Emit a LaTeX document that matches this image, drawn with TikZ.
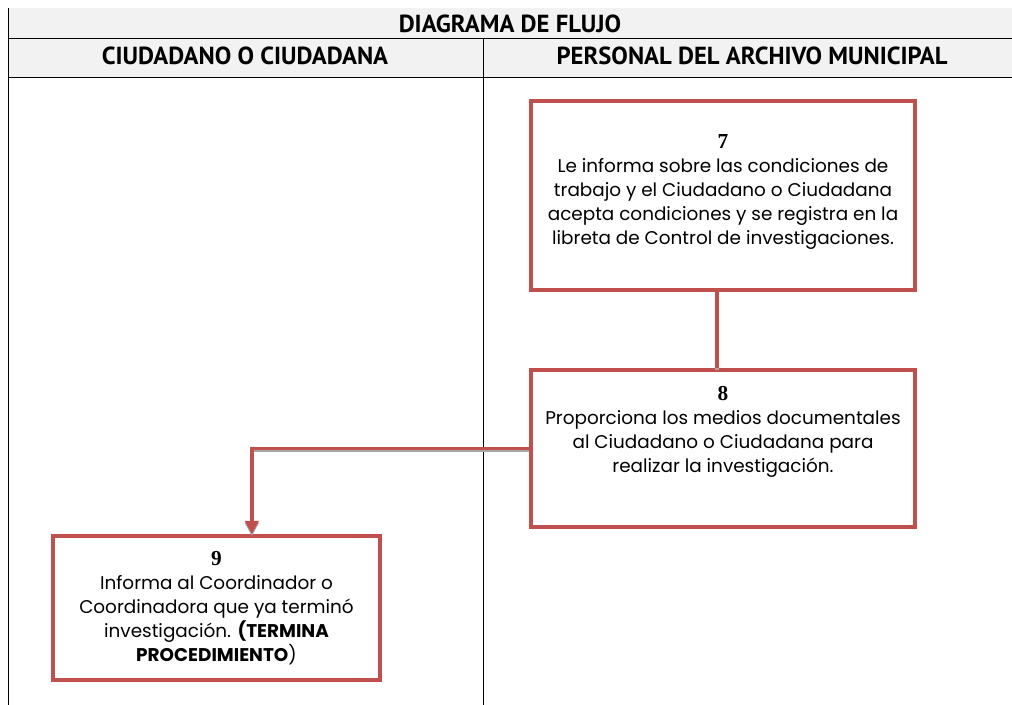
\documentclass[tikz,border=0pt]{standalone}
\usepackage{fontspec}
\setmainfont{Poppins}
\newfontfamily\headfont{PT Sans}
\newfontfamily\numfont{Liberation Serif}
\usepackage{tikz}
\usetikzlibrary{arrows.meta,positioning,shadows}
\definecolor{archivored}{HTML}{C0504D}
\definecolor{archivogray}{HTML}{F2F2F2}
\tikzset{
  archivopicture/.style={x=0.75pt, y=-0.75pt, node distance=57pt and 10mm},
  archivohead/.style={font=\headfont\bfseries\fontsize{18.5}{20}\selectfont, inner sep=0pt},
  archivobox/.style={draw=archivored, line width=2.8pt, align=center, fill=white, inner sep=4pt,
    font=\fontsize{13.8}{18}\selectfont, drop shadow={opacity=0.35, shadow xshift=0.8pt, shadow yshift=-0.8pt}},
  archivoline/.style={draw=archivored, line width=2.8pt,
    preaction={draw=gray!70, line width=2.8pt, transform canvas={yshift=-1.5pt}}},
  archivoarrow/.style={archivoline, -{Triangle[length=10pt, width=10pt]}}
}
\newcommand{\archivonum}[1]{{\numfont\bfseries\fontsize{16}{18}\selectfont #1}\\}

\begin{document}
\begin{tikzpicture}[archivopicture]
\useasboundingbox (0,0) rectangle (1012,705);
% table frame
\fill[archivogray] (8,8) rectangle (1012,77);
\draw[line width=0.6pt] (8,8) -- (8,705);
\draw[line width=0.6pt] (8,38) -- (1012,38);
\draw[line width=0.6pt] (8,77) -- (1012,77);
\draw[line width=0.6pt] (483,38) -- (483,705);
\node[archivohead] (titulo) at (510,24) {DIAGRAMA DE FLUJO};
\node[archivohead] (ciudadano) at (245,56) {CIUDADANO O CIUDADANA};
\node[archivohead] (personal) at (752,56) {PERSONAL DEL ARCHIVO MUNICIPAL};
% steps
\node[archivobox, minimum width=288pt, minimum height=142pt] (paso7) at (723,195.5)
  {\archivonum{7}Le informa sobre las condiciones de\\trabajo y el Ciudadano o Ciudadana\\acepta condiciones y se registra en la\\libreta de Control de investigaciones.\\[-9pt]};
\node[archivobox, minimum width=288pt, minimum height=118pt, below=of paso7] (paso8)
  {\archivonum{8}Proporciona los medios documentales\\al Ciudadano o Ciudadana para\\realizar la investigaci\'on.\\[10pt]};
\node[archivobox, minimum width=245pt, minimum height=108pt] (paso9) at (216.5,608)
  {\archivonum{9}Informa al Coordinador o\\Coordinadora que ya termin\'o\\investigaci\'on. \textbf{(TERMINA}\\\textbf{PROCEDIMIENTO})};
% connectors
\draw[archivoline] ([xshift=-4.5pt]paso7.south) -- ([xshift=-4.5pt]paso8.north);
\draw[archivoarrow] (paso8.west) -| ([xshift=26.5pt]paso9.north);
\end{tikzpicture}
\end{document}
